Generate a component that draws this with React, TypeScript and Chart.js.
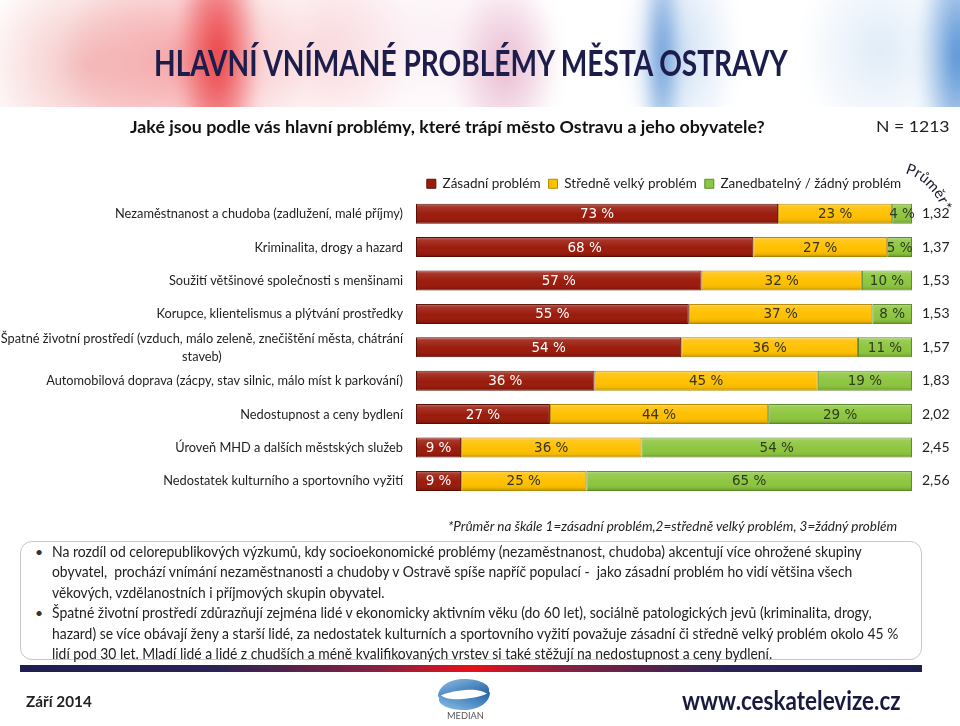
import React, { useEffect, useLayoutEffect, useRef } from 'react';
import { Chart, registerables } from 'chart.js';
Chart.register(...registerables);

// ---- data ----
const CATEGORIES: (string | string[])[] = [
  'Nezaměstnanost a chudoba (zadlužení, malé příjmy)',
  'Kriminalita, drogy a hazard',
  'Soužití většinové společnosti s menšinami',
  'Korupce, klientelismus a plýtvání prostředky',
  ['Špatné životní prostředí (vzduch, málo zeleně, znečištění města, chátrání', 'staveb)'],
  'Automobilová doprava (zácpy, stav silnic, málo míst k parkování)',
  'Nedostupnost a ceny bydlení',
  'Úroveň MHD a dalších městských služeb',
  'Nedostatek kulturního a sportovního vyžití',
];
const SERIES_NAMES = ['Zásadní problém', 'Středně velký problém', 'Zanedbatelný / žádný problém'];
const MAJOR = [73, 68, 57, 55, 54, 36, 27, 9, 9];
const MEDIUM = [23, 27, 32, 37, 36, 45, 44, 36, 25];
const NONE = [4, 5, 10, 8, 11, 19, 29, 54, 65];
const AVERAGES = ['1,32', '1,37', '1,53', '1,53', '1,57', '1,83', '2,02', '2,45', '2,56'];

const COLORS = ['#9b1b0c', '#ffc000', '#8dc63f'];
const BORDERS = ['#5a0e05', '#b58a00', '#5d8c2a'];
const TEXT_COLORS = ['#ffffff', '#333322', '#2f3a22'];

const BODY_LINES = [
  { t: 'Na rozdíl od celorepublikových výzkumů, kdy socioekonomické problémy (nezaměstnanost, chudoba) akcentují více ohrožené skupiny', x2: 862, y: 553 },
  { t: 'obyvatel,  prochází vnímání nezaměstnanosti a chudoby v Ostravě spíše napříč populací -  jako zásadní problém ho vidí většina všech', x2: 852, y: 573 },
  { t: 'věkových, vzdělanostních i příjmových skupin obyvatel.', x2: 385, y: 594 },
  { t: 'Špatné životní prostředí zdůrazňují zejména lidé v ekonomicky aktivním věku (do 60 let), sociálně patologických jevů (kriminalita, drogy,', x2: 872, y: 614 },
  { t: 'hazard) se více obávají ženy a starší lidé, za nedostatek kulturních a sportovního vyžití považuje zásadní či středně velký problém okolo 45 %', x2: 898, y: 635 },
  { t: 'lidí pod 30 let. Mladí lidé a lidé z chudších a méně kvalifikovaných vrstev si také stěžují na nedostupnost a ceny bydlení.', x2: 772, y: 655 },
];

function FitText(props: any) {
  const { text, x, y, w, size, weight = 400, italic = false, color = '#222', family = 'Lato, "Noto Sans", sans-serif', spacing } = props;
  const ref = useRef<HTMLSpanElement>(null);
  useLayoutEffect(() => {
    const fit = () => {
      const el = ref.current;
      if (!el) return;
      el.style.transform = 'none';
      const nat = el.offsetWidth;
      if (nat > 0) el.style.transform = `scaleX(${w / nat})`;
    };
    fit();
    const f: any = (document as any).fonts;
    if (f && f.ready) f.ready.then(fit);
  }, [text, w]);
  return (
    <span
      ref={ref}
      style={{
        position: 'absolute', left: x, top: y - size * 0.58, fontSize: size, fontWeight: weight,
        fontStyle: italic ? 'italic' : 'normal', color, fontFamily: family, lineHeight: 1,
        whiteSpace: 'pre', transformOrigin: '0 0', display: 'inline-block', letterSpacing: spacing,
      }}
    >{text}</span>
  );
}

export default function App() {
  const canvasRef = useRef<HTMLCanvasElement>(null);

  useEffect(() => {
    if (!canvasRef.current) return;
    const raw = [MAJOR, MEDIUM, NONE];
    const sums = MAJOR.map((v, i) => v + MEDIUM[i] + NONE[i]);

    const overlayPlugin = {
      id: 'overlay',
      afterDatasetsDraw(chart: any) {
        const ctx = chart.ctx;
        ctx.save();
        chart.data.datasets.forEach((ds: any, di: number) => {
          const meta = chart.getDatasetMeta(di);
          meta.data.forEach((el: any) => {
            const { x, y, base, height } = el.getProps(['x', 'y', 'base', 'height'], true);
            const left = Math.min(x, base), right = Math.max(x, base);
            const top = y - height / 2, bot = y + height / 2;
            const g = ctx.createLinearGradient(0, top, 0, bot);
            g.addColorStop(0, 'rgba(255,255,255,0.45)');
            g.addColorStop(0.15, 'rgba(255,255,255,0.12)');
            g.addColorStop(0.55, 'rgba(255,255,255,0)');
            g.addColorStop(0.85, 'rgba(0,0,0,0.06)');
            g.addColorStop(1, 'rgba(0,0,0,0.28)');
            ctx.fillStyle = g;
            ctx.fillRect(left + 1, top + 1, right - left - 2, height - 2);
          });
        });
        chart.data.datasets.forEach((ds: any, di: number) => {
          const meta = chart.getDatasetMeta(di);
          meta.data.forEach((el: any, i: number) => {
            const { x, y, base } = el.getProps(['x', 'y', 'base'], true);
            ctx.fillStyle = TEXT_COLORS[di];
            ctx.font = '13.5px "DejaVu Sans", Verdana, sans-serif';
            ctx.textAlign = 'center';
            ctx.textBaseline = 'middle';
            ctx.fillText(raw[di][i] + ' %', (x + base) / 2, y + 1);
          });
        });
        ctx.restore();
      },
      afterDraw(chart: any) {
        const ctx = chart.ctx;
        const yScale = chart.scales.y;
        ctx.save();
        ctx.font = '14px Lato, "Noto Sans", sans-serif';
        ctx.fillStyle = '#1e1e1e';
        ctx.textBaseline = 'middle';
        const first = CATEGORIES[0] as string;
        const k = 288 / ctx.measureText(first).width;
        const rightX = chart.chartArea.left - 13;
        CATEGORIES.forEach((lab, i) => {
          const yc = yScale.getPixelForTick(i);
          const lines = Array.isArray(lab) ? lab : [lab];
          const widths = lines.map((l) => ctx.measureText(l).width * k);
          const maxW = Math.max(...widths);
          const lh = 18;
          lines.forEach((l, j) => {
            const yy = yc + (j - (lines.length - 1) / 2) * lh;
            ctx.save();
            if (lines.length === 1) {
              ctx.translate(rightX, yy);
              ctx.scale(k, 1);
              ctx.textAlign = 'right';
            } else {
              ctx.translate(rightX - maxW / 2, yy);
              ctx.scale(k, 1);
              ctx.textAlign = 'center';
            }
            ctx.fillText(l, 0, 0);
            ctx.restore();
          });
        });
        // curved "Průměr*" header
        const word = 'Průměr*';
        ctx.font = '15px Lato, "Noto Sans", sans-serif';
        ctx.fillStyle = '#1a1a2a';
        ctx.textAlign = 'left';
        ctx.textBaseline = 'alphabetic';
        let px = 905, py = 13, ang = 20;
        for (const ch of word) {
          const w = ctx.measureText(ch).width;
          const r = (ang * Math.PI) / 180;
          ctx.save();
          ctx.translate(px, py);
          ctx.rotate(r);
          ctx.fillText(ch, 0, 0);
          ctx.restore();
          px += w * Math.cos(r);
          py += w * Math.sin(r);
          ang += 9;
        }
        ctx.restore();
      },
    };

    const chart = new Chart(canvasRef.current, {
      type: 'bar',
      data: {
        labels: CATEGORIES as any,
        datasets: raw.map((arr, k) => ({
          label: SERIES_NAMES[k],
          data: arr.map((v, i) => (v / sums[i]) * 100),
          backgroundColor: COLORS[k],
          borderColor: BORDERS[k],
          borderWidth: 1,
          borderSkipped: false,
          barPercentage: 0.6,
          categoryPercentage: 1,
        })),
      },
      options: {
        indexAxis: 'y',
        animation: false,
        responsive: false,
        maintainAspectRatio: false,
        layout: { padding: { top: 9, left: 0, right: 0, bottom: 0 } },
        plugins: {
          legend: {
            position: 'top',
            fullSize: false,
            maxHeight: 28,
            labels: {
              boxWidth: 9,
              boxHeight: 9,
              padding: 8,
              color: '#222',
              font: { family: 'Lato, "Noto Sans", sans-serif', size: 13.5 },
            },
          } as any,
          tooltip: { enabled: false },
        },
        scales: {
          x: { stacked: true, min: 0, max: 100, display: false },
          y: {
            stacked: true,
            grid: { display: false, drawTicks: false },
            border: { display: false },
            ticks: { display: false },
            afterFit: (s: any) => { s.width = 416; },
          },
          y2: {
            type: 'category',
            position: 'right',
            labels: AVERAGES,
            offset: true,
            grid: { display: false, drawTicks: false },
            border: { display: false },
            ticks: { padding: 10, color: '#222', font: { family: 'Lato, "Noto Sans", sans-serif', size: 14 } },
            afterFit: (s: any) => { s.width = 48; },
          },
        } as any,
      },
      plugins: [overlayPlugin],
    });
    return () => chart.destroy();
  }, []);

  const headerBg = [
    'radial-gradient(ellipse 42px 130px at 238px 75px, rgba(232,40,45,0.85), rgba(232,40,45,0.4) 55%, rgba(232,40,45,0))',
    'radial-gradient(ellipse 125px 120px at 205px 80px, rgba(236,80,85,0.5), rgba(236,80,85,0.2) 60%, rgba(236,80,85,0))',
    'radial-gradient(ellipse 110px 110px at 105px 85px, rgba(232,120,120,0.45), rgba(232,120,120,0))',
    'radial-gradient(ellipse 90px 110px at 345px 70px, rgba(240,150,160,0.35), rgba(240,150,160,0))',
    'radial-gradient(ellipse 140px 100px at 450px 60px, rgba(240,195,215,0.25), rgba(240,195,215,0))',
    'radial-gradient(ellipse 55px 90px at 525px 85px, rgba(205,100,150,0.45), rgba(205,100,150,0))',
    'radial-gradient(ellipse 20px 120px at 682px 75px, rgba(45,115,200,0.7), rgba(45,115,200,0))',
    'radial-gradient(ellipse 60px 110px at 700px 70px, rgba(120,170,225,0.35), rgba(120,170,225,0))',
    'radial-gradient(ellipse 80px 100px at 900px 70px, rgba(150,190,230,0.3), rgba(150,190,230,0))',
    'radial-gradient(ellipse 40px 130px at 978px 75px, rgba(30,110,200,0.8), rgba(30,110,200,0))',
    '#ffffff',
  ].join(',');

  return (
    <div style={{ position: 'fixed', left: 0, top: 0, width: 960, height: 726, background: '#fff', overflow: 'hidden', fontFamily: 'Lato, sans-serif' }}>
      <div style={{ position: 'absolute', left: 0, top: 0, width: 960, height: 107, overflow: 'hidden' }}>
        <div style={{ position: 'absolute', left: -20, top: -20, width: 1000, height: 150, background: headerBg, filter: 'blur(7px)' }} />
      </div>
      <FitText text="HLAVNÍ VNÍMANÉ PROBLÉMY MĚSTA OSTRAVY" x={154} y={65} w={634} size={36} weight={700} color="#1c1d4b" />
      <FitText text="Jaké jsou podle vás hlavní problémy, které trápí město Ostravu a jeho obyvatele?" x={130} y={128} w={635} size={17} weight={700} color="#111" />
      <FitText text="N = 1213" x={876} y={128} w={74} size={15} color="#222" />

      <canvas ref={canvasRef} width={960} height={356} style={{ position: 'absolute', left: 0, top: 160, width: 960, height: 356 }} />

      <FitText text="*Průměr na škále 1=zásadní problém,2=středně velký problém, 3=žádný problém" x={448} y={528} w={449} size={12.5} italic color="#222" />

      <div style={{ position: 'absolute', left: 20, top: 541, width: 902, height: 119, border: '1.5px solid #c8c8c8', borderRadius: 12, boxSizing: 'border-box' }} />
      <span style={{ position: 'absolute', left: 35, top: 545, fontSize: 14, color: '#333', lineHeight: 1 }}>•</span>
      <span style={{ position: 'absolute', left: 35, top: 606, fontSize: 14, color: '#333', lineHeight: 1 }}>•</span>
      {BODY_LINES.map((l, i) => (
        <FitText key={i} text={l.t} x={52} y={l.y} w={l.x2 - 52} size={15} color="#222" />
      ))}

      <div style={{ position: 'absolute', left: 20, top: 665, width: 902, height: 7, background: 'linear-gradient(90deg, #1e1f4f 0%, #2c2355 22%, #8a2040 40%, #e8101a 50%, #8a2040 60%, #2c2355 78%, #1e1f4f 100%)' }} />

      <FitText text="Září 2014" x={26} y={702} w={66} size={16} weight={700} color="#222" />
      <svg style={{ position: 'absolute', left: 436, top: 678 }} width={56} height={33} viewBox="0 0 56 33">
        <defs>
          <linearGradient id="lg1" x1="0" y1="0" x2="1" y2="1">
            <stop offset="0" stopColor="#8cc0ea" />
            <stop offset="1" stopColor="#1b5a9c" />
          </linearGradient>
          <linearGradient id="lg2" x1="1" y1="0" x2="0" y2="1">
            <stop offset="0" stopColor="#1f62a8" />
            <stop offset="1" stopColor="#8cc0e8" />
          </linearGradient>
        </defs>
        <path d="M2 19 C2 8 14 1 28 1 C42 1 53 6 53 11 L53 17 C47 12 38 11 29 12 C18 13 9 15 2 19 Z" fill="url(#lg1)" />
        <path d="M54 14 C54 25 42 32 28 32 C14 32 3 27 3 22 L3 16 C9 21 18 22 27 21 C38 20 47 18 54 14 Z" fill="url(#lg2)" />
      </svg>
      <FitText text="MEDIAN" x={447} y={716} w={37} size={10} color="#555" />
      <FitText text="www.ceskatelevize.cz" x={682} y={702} w={219} size={27} weight={700} color="#1a1a40" />
    </div>
  );
}
